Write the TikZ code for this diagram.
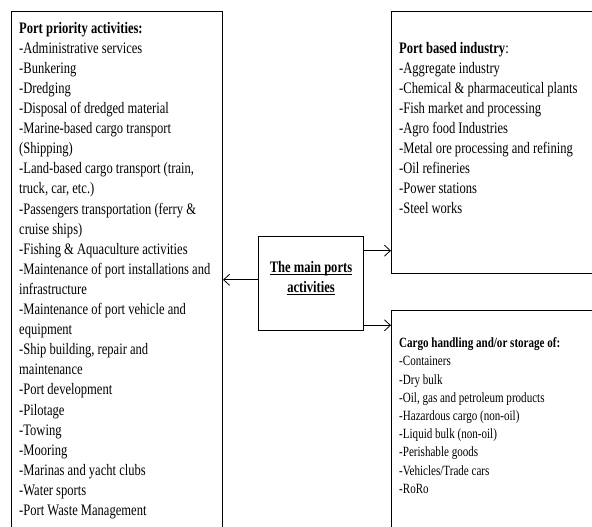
\documentclass[tikz,border=0pt]{standalone}
\usepackage{fontspec}
\setmainfont{Liberation Serif}[FakeStretch=0.785]
\usetikzlibrary{arrows.meta}

\begin{document}
\begin{tikzpicture}[
			x=1pt, y=-1pt,
			riquadro/.style={draw=black, line width=1.0pt, inner sep=0pt, anchor=north west},
			elenco/.style={anchor=north west, align=left, inner sep=0pt,
				font=\fontsize{16}{20.1}\selectfont},
			elencoP/.style={elenco, font=\fontsize{14.1}{18.2}\selectfont},
			freccia/.style={-{Straight Barb[length=6pt,width=11pt]}, line width=0.8pt, black}]
			
			\useasboundingbox (0,0) rectangle (592,527);
			\clip (0,0) rectangle (592,527);
			
			\def\xL{11}      %% bordo sx riquadro grande
			\def\xR{391}     %% bordo sx riquadri a destra
			\def\ti{8}       %% rientro del testo
			
			%% --- riquadri ---
			\node[riquadro, minimum width=211pt, minimum height=560pt] (prio) at (\xL,11.5) {};
			\node[riquadro, minimum width=240pt, minimum height=261.5pt] (ind) at (\xR,11.5) {};
			\node[riquadro, minimum width=240pt, minimum height=260pt] (cargo) at (\xR,310) {};
			\node[riquadro, minimum width=105pt, minimum height=94pt] (main) at (258,236) {};
			
			%% --- testi ---
			\node[elenco] (prioTxt) at (\xL+\ti,18.9) {\strut\textbf{Port priority activities:}\\
				-Administrative services\\
				-Bunkering\\
				-Dredging\\
				-Disposal of dredged material\\
				-Marine-based cargo transport\\
				(Shipping)\\
				-Land-based cargo transport (train,\\
				truck, car, etc.)\\
				-Passengers transportation (ferry \&\\
				cruise ships)\\
				-Fishing \& Aquaculture activities\\
				-Maintenance of port installations and\\
				infrastructure\\
				-Maintenance of port vehicle and\\
				equipment\\
				-Ship building, repair and\\
				maintenance\\
				-Port development\\
				-Pilotage\\
				-Towing\\
				-Mooring\\
				-Marinas and yacht clubs\\
				-Water sports\\
				-Port Waste Management};
			
			\node[elenco] (indTxt) at (\xR+\ti,38.9) {\strut\textbf{Port based industry}:\\
				-Aggregate industry\\
				-Chemical \& pharmaceutical plants\\
				-Fish market and processing\\
				-Agro food Industries\\
				-Metal ore processing and refining\\
				-Oil refineries\\
				-Power stations\\
				-Steel works};
			
			\node[elencoP] (cargoTxt) at (\xR+\ti,334.8) {\strut\textbf{Cargo handling and/or storage of:}\\
				-Containers\\
				-Dry bulk\\
				-Oil, gas and petroleum products\\
				-Hazardous cargo (non-oil)\\
				-Liquid bulk (non-oil)\\
				-Perishable goods\\
				-Vehicles/Trade cars\\
				-RoRo};
			
			\node[align=center, inner sep=0pt, font=\fontsize{16}{20.1}\selectfont\bfseries]
				(mainTxt) at (main.center) {\underline{\smash{The main ports}}\\\underline{activities}};
			
			%% --- frecce ---
			\draw[freccia] ([yshift=3.7pt]main.west) -- ([yshift=3.7pt]main.west -| prio.east);
			\draw[freccia] ([yshift=-14.7pt]main.north east) -- ([yshift=-14.7pt]main.north east -| ind.west);
			\draw[freccia] ([yshift=5.7pt]main.south east) -- ([yshift=5.7pt]main.south east -| cargo.west);
			
		\end{tikzpicture}
\end{document}
